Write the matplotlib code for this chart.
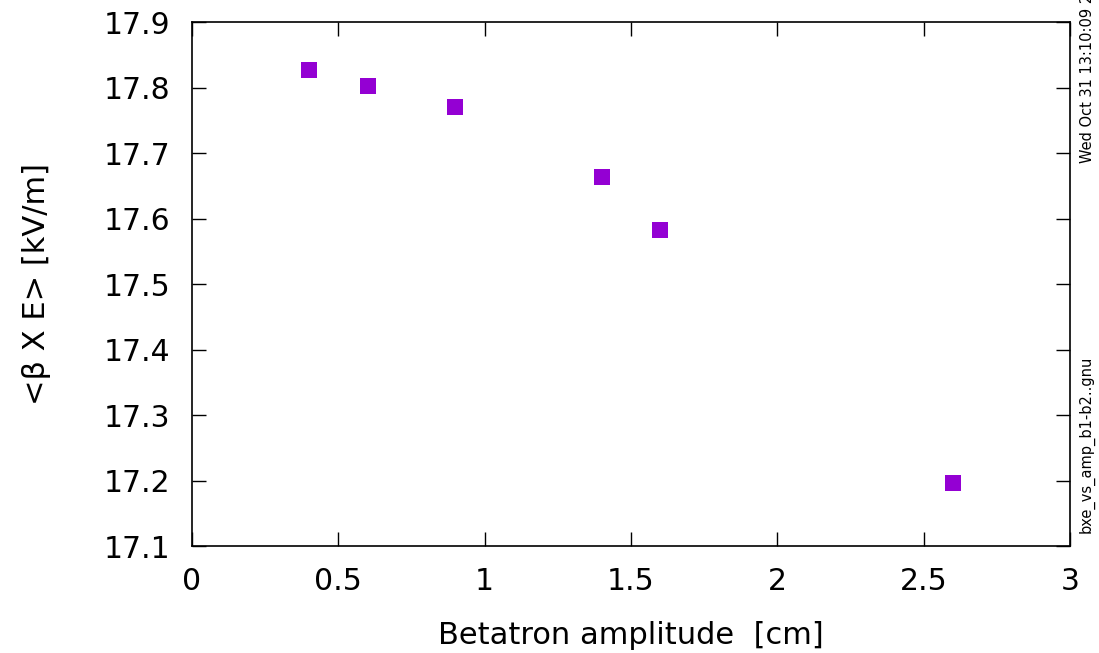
import matplotlib
matplotlib.use("Agg")
import matplotlib.pyplot as plt

x_vals = [0.4, 0.6, 0.9, 1.4, 1.6, 2.6]
y_vals = [17.827, 17.802, 17.770, 17.663, 17.582, 17.196]
x_ticks = [0, 0.5, 1, 1.5, 2, 2.5, 3]
x_ticklabels = ["0", "0.5", "1", "1.5", "2", "2.5", "3"]
y_ticks = [17.1, 17.2, 17.3, 17.4, 17.5, 17.6, 17.7, 17.8, 17.9]
y_ticklabels = ["17.1", "17.2", "17.3", "17.4", "17.5", "17.6", "17.7", "17.8", "17.9"]

fig = plt.figure(figsize=(10.99, 6.53), dpi=100)
ax = fig.add_axes([192/1099, 107/653, 878/1099, 524/653])
ax.plot(x_vals, y_vals, linestyle="none", marker="s", markersize=11.5,
        color="#9400d3", markeredgewidth=0)
ax.set_xlim(0, 3)
ax.set_ylim(17.1, 17.9)
ax.set_xticks(x_ticks)
ax.set_xticklabels(x_ticklabels)
ax.set_yticks(y_ticks)
ax.set_yticklabels(y_ticklabels)
ax.tick_params(direction="in", length=10, width=1, top=True, right=True,
               labelsize=21.5, colors="black")
ax.tick_params(axis="y", pad=15.5)
ax.tick_params(axis="x", pad=15)
for s in ax.spines.values():
    s.set_linewidth(1.2)
ax.set_xlabel("Betatron amplitude  [cm]", fontsize=22, labelpad=18)
ax.set_ylabel("<β X E> [kV/m]", fontsize=22, labelpad=38)
fig.text(1087/1099, 1 - 163/653, "Wed Oct 31 13:10:09 2018", rotation=90,
         fontsize=10.5, ha="center", va="bottom")
fig.text(1087/1099, 1 - 533/653, "bxe_vs_amp_b1-b2..gnu", rotation=90,
         fontsize=10.5, ha="center", va="bottom")
fig.savefig("out.png", dpi=100)
